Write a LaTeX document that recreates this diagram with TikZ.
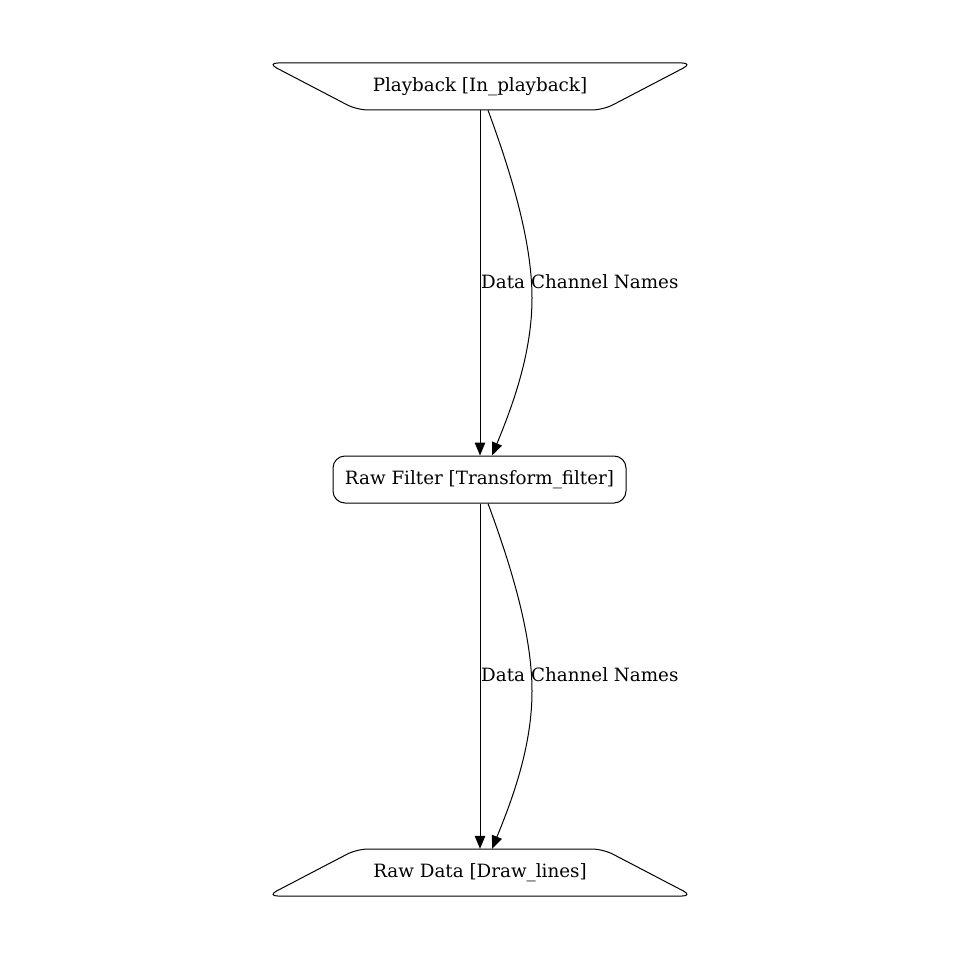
\documentclass[tikz,border=0pt]{standalone}
\usepackage{fontspec}
\setmainfont{DejaVu Serif}
\usetikzlibrary{arrows.meta}
\begin{document}
\begin{tikzpicture}[x=1pt,y=-1pt,
  every node/.style={font=\fontsize{18.3}{20}\selectfont},
  shapebox/.style={draw=black,line width=1pt,rounded corners=11pt},
  txt/.style={inner sep=0pt,minimum width=415pt,minimum height=47pt},
  edge/.style={draw=black,line width=1pt,-{Triangle[length=13pt,width=10.5pt]}},
  lbl/.style={inner sep=0pt,anchor=west}]
\useasboundingbox[fill=white] (0,0) rectangle (960,960);
% shapes
\draw[shapebox] (267,63) -- (693,63) -- (603,110) -- (357,110) -- cycle;
\draw[shapebox] (357,849) -- (603,849) -- (693,896) -- (267,896) -- cycle;
% nodes
\node[txt] (play) at (480,86.5) {\raisebox{-1.5pt}{Playback [In\_playback]}};
\node[draw=black,line width=1pt,rounded corners=12pt,minimum width=293pt,minimum height=47pt,inner sep=0pt] (filt) at (479.5,479.5) {\raisebox{-1.5pt}{Raw Filter [Transform\_filter]}};
\node[txt] (raw) at (480,872.5) {\raisebox{-1.5pt}{Raw Data [Draw\_lines]}};
% edges top
\coordinate (s1) at ([xshift=8pt]play.south);
\coordinate (m1) at (532,298);
\coordinate (e1) at ([xshift=12.5pt]filt.north);
\draw[edge] (play.south) -- ([xshift=0.5pt]filt.north);
\draw[edge] (s1) .. controls (510,170) and (532,240) .. (m1) .. controls (532,350) and (515,400) .. (e1);
\node[lbl] (l1) at (481,282) {Data};
\node[lbl] (l2) at (531,282) {Channel Names};
% edges bottom
\coordinate (s2) at ([xshift=8.5pt]filt.south);
\coordinate (m2) at (532,691);
\coordinate (e2) at ([xshift=12pt]raw.north);
\draw[edge] ([xshift=0.5pt]filt.south) -- (raw.north);
\draw[edge] (s2) .. controls (510,563) and (532,633) .. (m2) .. controls (532,743) and (515,793) .. (e2);
\node[lbl] (l3) at (481,675) {Data};
\node[lbl] (l4) at (531,675) {Channel Names};
\end{tikzpicture}
\end{document}
